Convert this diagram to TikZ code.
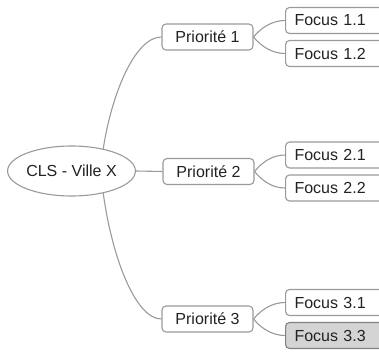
\documentclass[tikz,border=0pt]{standalone}
\usepackage{fontspec}
\setmainfont{Liberation Sans}
\usetikzlibrary{shapes.geometric}
\definecolor{edgegray}{HTML}{9A9A9A}
\definecolor{txt}{HTML}{222222}
\definecolor{selfill}{HTML}{D4D4D4}
\tikzset{
  conn/.style={draw=edgegray, line width=1.1pt},
  prio/.style={draw=edgegray, line width=1.1pt, rounded corners=4pt, fill=white,
    minimum width=91pt, minimum height=26pt, inner sep=0pt, text=txt,
    font=\fontsize{16}{18}\selectfont},
  focus/.style={draw=edgegray, line width=1.1pt, rounded corners=4pt, fill=white,
    anchor=west, minimum height=26pt, text width=92pt, inner xsep=9pt, inner ysep=0pt,
    align=left, text=txt, font=\fontsize{16}{18}\selectfont},
  root/.style={draw=edgegray, line width=1.1pt, ellipse, fill=white,
    minimum width=123pt, minimum height=50pt, inner sep=0pt, text=txt,
    font=\fontsize{16}{18}\selectfont},
}
\begin{document}
\begin{tikzpicture}[x=1pt,y=1pt]
\clip (0,0) rectangle (379,351);
\useasboundingbox (0,0) rectangle (379,351);
\node[root] (cls) at (71.5,180) {CLS - Ville X};
\node[prio] (p1) at (207.5,314) {Priorité 1};
\node[prio] (p2) at (208.5,179.5) {Priorité 2};
\node[prio] (p3) at (207.5,32) {Priorité 3};
\node[focus] (f11) at (285,330.5) {Focus 1.1};
\node[focus] (f12) at (285,297.5) {Focus 1.2};
\node[focus] (f21) at (285,196) {Focus 2.1};
\node[focus] (f22) at (285,163) {Focus 2.2};
\node[focus] (f31) at (285,48.5) {Focus 3.1};
\node[focus, fill=selfill, draw=gray] (f33) at (285,15.5) {Focus 3.3};
\begin{scope}[on background layer/.try]
\end{scope}
\draw[conn] (cls.35) .. controls +(8,53) and +(-27,0) .. (p1.west);
\draw[conn] (cls.east) -- (p2.west);
\draw[conn] (cls.-35) .. controls +(8,-60) and +(-27,0) .. (p3.west);
\foreach \p/\a/\b in {p1/f11/f12, p2/f21/f22, p3/f31/f33}{
  \draw[conn] (\p.east) .. controls +(8,10) and +(-12,0) .. (\a.west);
  \draw[conn] (\p.east) .. controls +(8,-10) and +(-12,0) .. (\b.west);
}
\end{tikzpicture}
\end{document}
